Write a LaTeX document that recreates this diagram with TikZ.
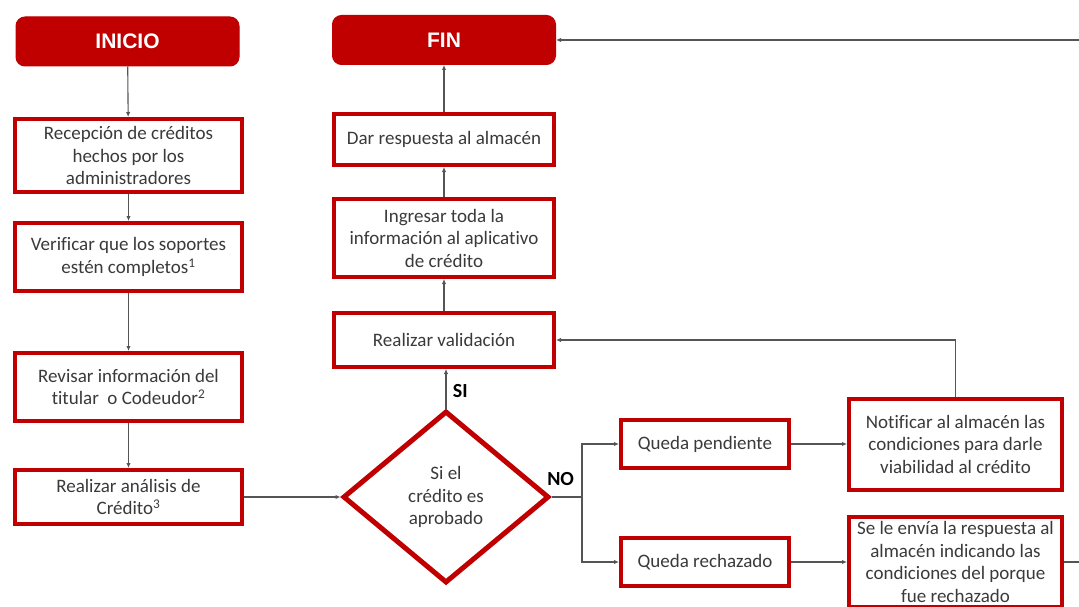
\documentclass[tikz,border=0pt]{standalone}
\usepackage{fontspec}
\setmainfont{Carlito}[Ligatures=NoCommon]
\newfontfamily\headfont{Liberation Sans}
\usetikzlibrary{shapes.geometric,arrows.meta}
\definecolor{brandred}{HTML}{C00000}
\definecolor{txtgray}{HTML}{3A3A3A}
\definecolor{linegray}{HTML}{555555}
\begin{document}
\begin{tikzpicture}[x=1pt,y=-1pt,
  every node/.style={font=\fontsize{19}{22.5}\selectfont, text=txtgray},
  terminal/.style={draw=brandred, fill=brandred, rounded corners=9pt,
    minimum width=223pt, minimum height=49pt, line width=1pt,
    font=\headfont\bfseries\fontsize{21}{24}\selectfont, text=white},
  procbox/.style={draw=brandred, line width=4pt, fill=white, align=center,
    inner sep=1pt},
  decision/.style={diamond, draw=brandred, line width=5pt, fill=white,
    align=center, inner sep=0pt, minimum width=206pt, minimum height=172pt},
  branchlbl/.style={font=\bfseries\fontsize{20}{22}\selectfont, text=black},
  flow/.style={draw=linegray, line width=1.1pt,
    -{Latex[length=5pt,width=4.5pt]}},
  plain/.style={draw=linegray, line width=1.1pt}
]
\useasboundingbox (0,0) rectangle (1079,607);
\clip (0,0) rectangle (1079,607);

% left column
\node[terminal] (inicio) at (127.5,41.5) {INICIO};
\node[procbox, minimum width=227pt, minimum height=73pt] (recep) at (128.5,155.5)
  {Recepción de créditos\\hechos por los\\administradores};
\node[procbox, minimum width=227pt, minimum height=68pt] (verif) at (128.5,257)
  {Verificar que los soportes\\estén completos\textsuperscript{1}};
\node[procbox, minimum width=227pt, minimum height=68pt] (revis) at (128.5,387)
  {Revisar información del\\titular\ \ o Codeudor\textsuperscript{2}};
\node[procbox, minimum width=227pt, minimum height=54pt] (anali) at (128.5,497)
  {Realizar análisis de\\Crédito\textsuperscript{3}};

% centre column
\node[terminal] (fin) at (444,40) {FIN};
\node[procbox, minimum width=220pt, minimum height=51pt] (dar) at (444,139.5)
  {Dar respuesta al almacén};
\node[procbox, minimum width=220pt, minimum height=78pt] (ingr) at (444,238)
  {Ingresar toda la\\información al aplicativo\\de crédito};
\node[procbox, minimum width=220pt, minimum height=54pt] (valid) at (444,340)
  {Realizar validación};
\node[decision] (dec) at (446,497) {Si el\\crédito es\\aprobado};

% right branches
\node[procbox, minimum width=168pt, minimum height=48pt] (pend) at (705,444)
  {Queda pendiente};
\node[procbox, minimum width=168pt, minimum height=48pt] (rech) at (705,562)
  {Queda rechazado};
\node[procbox, minimum width=213pt, minimum height=91pt] (notif) at (955.5,444)
  {Notificar al almacén las\\condiciones para darle\\viabilidad al crédito};
\node[procbox, minimum width=213pt, minimum height=90pt, inner sep=0pt] (envia) at (955.5,562)
  {Se le envía la respuesta al\\almacén indicando las\\condiciones del porque\\fue rechazado};

\coordinate (split) at (582,497);
\coordinate (ret) at (1095,40);

% connectors
\draw[flow] (inicio) -- (recep);
\draw[flow] (recep) -- (verif);
\draw[flow] (verif) -- (revis);
\draw[flow] (revis) -- (anali);
\draw[flow] (anali.east) -- (dec.west);
\draw[flow] (dec.north) -- (dec.north |- valid.south)
  node[branchlbl, pos=0.45, right=3pt] {SI};
\draw[flow] (valid) -- (ingr);
\draw[flow] (ingr) -- (dar);
\draw[flow] (dar) -- (fin);
\draw[plain] (dec.east) -- (split)
  node[branchlbl, pos=0.3, above=7pt] {NO};
\draw[flow] (split) |- (pend.west);
\draw[flow] (split) |- (rech.west);
\draw[flow] (pend.east) -- (notif.west);
\draw[flow] (rech.east) -- (envia.west);
\draw[flow] (notif.north) |- (valid.east);
\draw[flow] (envia.east) -| (ret) -- (fin.east);
\end{tikzpicture}
\end{document}
